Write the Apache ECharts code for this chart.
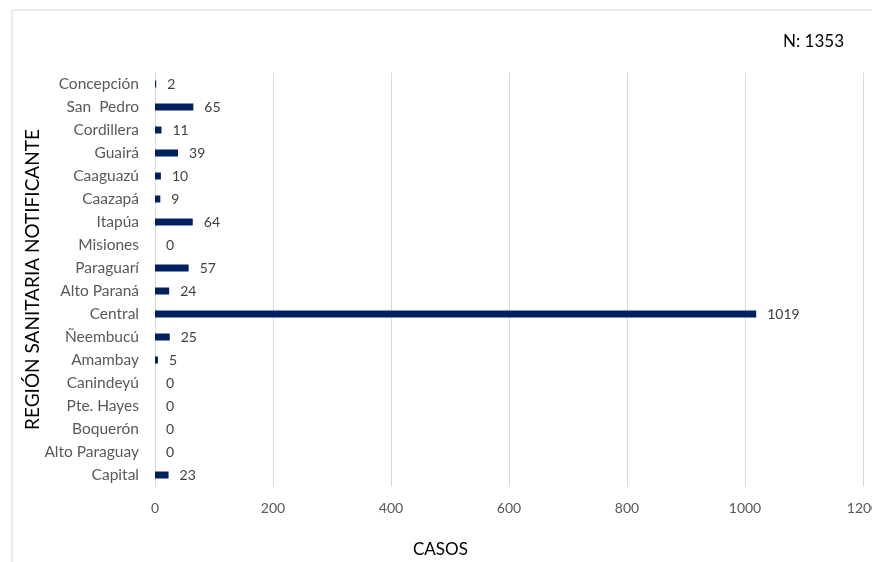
<!DOCTYPE html>
<html>
<head>
<meta charset="utf-8">
<style>
  html, body { margin: 0; padding: 0; background: #ffffff; }
  #chart { width: 872px; height: 562px; }
</style>
<script src="https://cdn.jsdelivr.net/npm/echarts@6/dist/echarts.min.js"></script>
</head>
<body>
<div id="chart"></div>
<script>
// Casos notificados por región sanitaria
const regiones = [
  'Concepción', 'San  Pedro', 'Cordillera', 'Guairá', 'Caaguazú', 'Caazapá',
  'Itapúa', 'Misiones', 'Paraguarí', 'Alto Paraná', 'Central', 'Ñeembucú',
  'Amambay', 'Canindeyú', 'Pte. Hayes', 'Boquerón', 'Alto Paraguay', 'Capital'
];
const casos = [2, 65, 11, 39, 10, 9, 64, 0, 57, 24, 1019, 25, 5, 0, 0, 0, 0, 23];
const totalCasos = 1353;
const ejeX = { min: 0, max: 1200, interval: 200 };

const FONT = 'Lato, "Open Sans", sans-serif';
const chart = echarts.init(document.getElementById('chart'), null, { renderer: 'canvas' });

chart.setOption({
  animation: false,
  backgroundColor: '#ffffff',
  graphic: [
    {
      type: 'rect',
      shape: { x: 12, y: 10, width: 900, height: 600 },
      style: { fill: 'none', stroke: '#d9d9d9', lineWidth: 1 },
      silent: true
    },
    {
      type: 'text',
      left: 783, top: 33,
      style: { text: 'N: ' + totalCasos, fill: '#000000', font: '17px ' + FONT }
    },
    {
      type: 'text',
      left: 413, top: 541,
      style: { text: 'CASOS', fill: '#000000', font: '17px ' + FONT }
    }
  ],
  grid: {
    left: 155, right: 9, top: 72.5, bottom: 75.5,
    containLabel: false, outerBoundsMode: 'none'
  },
  xAxis: {
    type: 'value',
    min: ejeX.min, max: ejeX.max, interval: ejeX.interval,
    axisLine: { show: false },
    axisTick: { show: false },
    axisLabel: {
      color: '#595959', fontSize: 14, fontFamily: FONT, margin: 15,
      formatter: v => String(v), hideOverlap: false
    },
    splitLine: { show: true, lineStyle: { color: '#d9d9d9', width: 1 } }
  },
  yAxis: {
    type: 'category',
    data: regiones,
    inverse: true,
    name: 'REGIÓN SANITARIA NOTIFICANTE',
    nameLocation: 'middle',
    nameGap: 113,
    nameMoveOverlap: false,
    nameRotate: 90,
    nameTextStyle: { color: '#000000', fontSize: 19, fontFamily: FONT },
    axisLine: { show: false },
    axisTick: { show: false },
    axisLabel: { color: '#595959', fontSize: 15.5, fontFamily: FONT, margin: 16 }
  },
  series: [{
    type: 'bar',
    data: casos,
    barWidth: 7,
    itemStyle: { color: '#002060' },
    label: {
      show: true,
      position: 'right',
      distance: 11,
      color: '#404040',
      fontSize: 14,
      fontFamily: FONT
    }
  }]
});
</script>
</body>
</html>
